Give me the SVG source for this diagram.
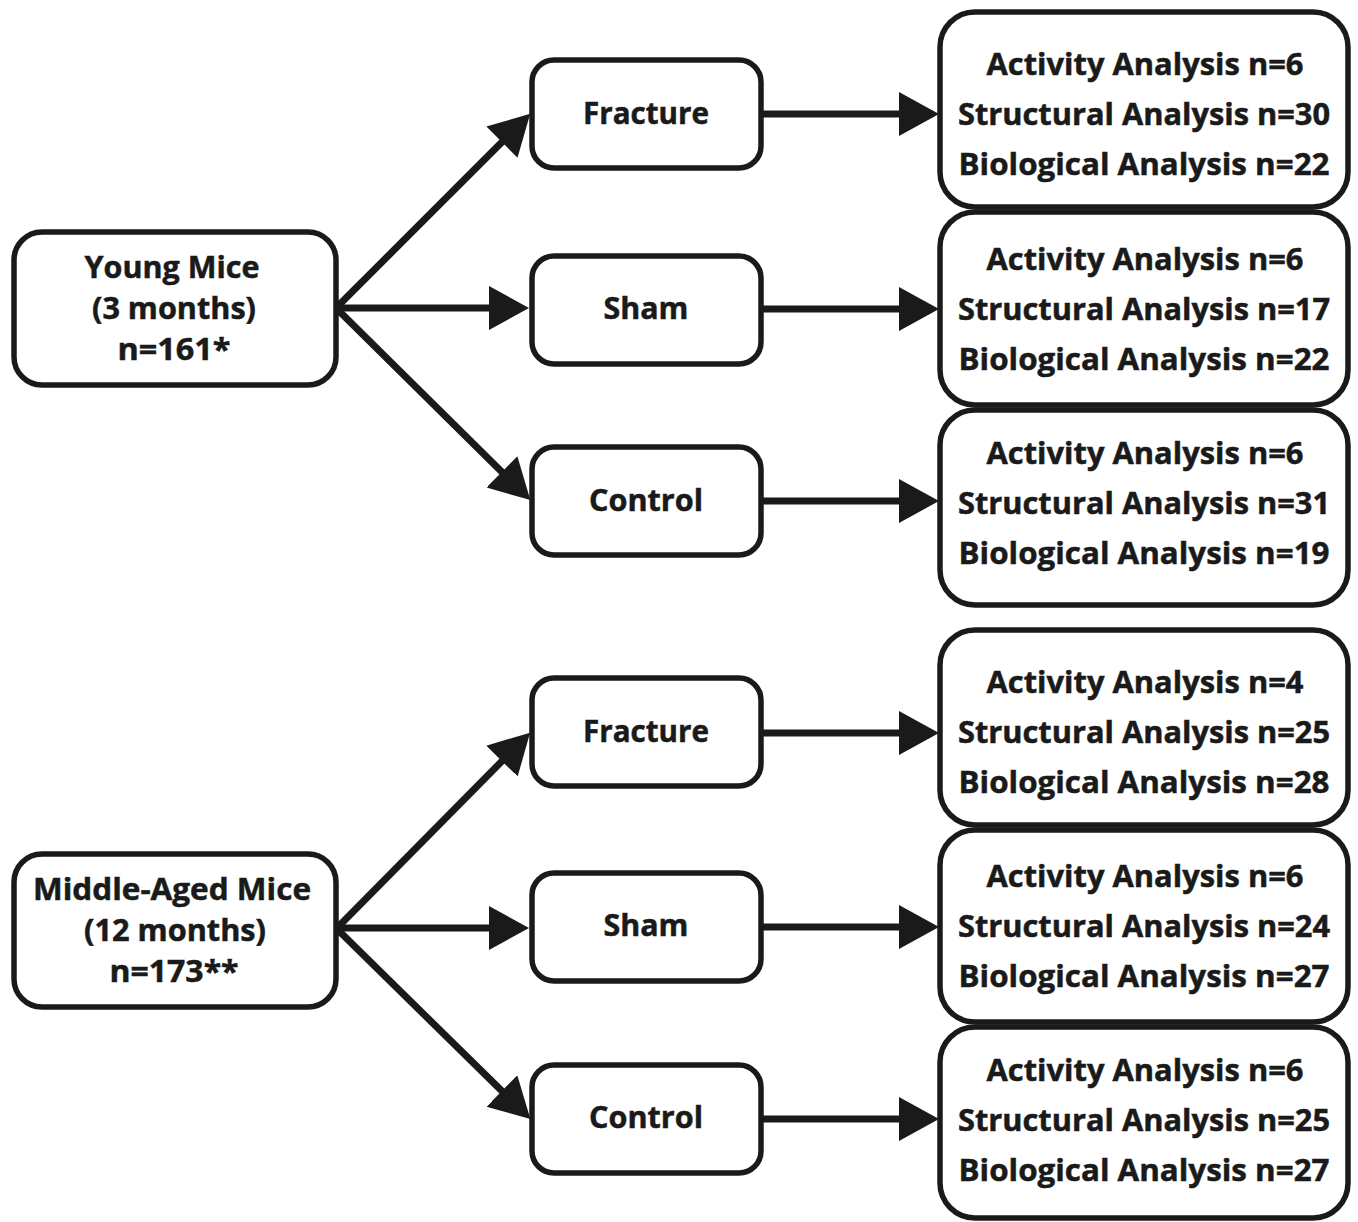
<svg xmlns="http://www.w3.org/2000/svg" width="1358" height="1222" viewBox="0 0 1358 1222">
<style>
  .box{fill:#fff;stroke:#1a1a1a;stroke-width:5.5}
  .t{font-family:"Open Sans","Noto Sans","Liberation Sans",sans-serif;font-weight:bold;font-size:30px;fill:#1a1a1a;stroke:#1a1a1a;stroke-width:0.5;text-anchor:middle}
  .c{stroke:#1a1a1a;stroke-width:7;fill:none}
</style>
<defs>
  <marker id="ah" markerUnits="userSpaceOnUse" markerWidth="42" markerHeight="46" refX="10" refY="22" orient="auto">
    <path d="M0,0 L40,22 L0,44 Z" fill="#1a1a1a"/>
  </marker>
</defs>
<rect width="1358" height="1222" fill="#fff"/>
<g id="connectors">
  <line class="c" x1="337" y1="307" x2="509" y2="135" marker-end="url(#ah)"/>
  <line class="c" x1="337" y1="308" x2="499" y2="308" marker-end="url(#ah)"/>
  <line class="c" x1="337" y1="309" x2="509" y2="479" marker-end="url(#ah)"/>
  <line class="c" x1="761" y1="114" x2="909" y2="114" marker-end="url(#ah)"/>
  <line class="c" x1="761" y1="309" x2="909" y2="309" marker-end="url(#ah)"/>
  <line class="c" x1="761" y1="501" x2="909" y2="501" marker-end="url(#ah)"/>
  <line class="c" x1="337" y1="928" x2="509" y2="754" marker-end="url(#ah)"/>
  <line class="c" x1="337" y1="928" x2="499" y2="928" marker-end="url(#ah)"/>
  <line class="c" x1="337" y1="929" x2="509" y2="1098" marker-end="url(#ah)"/>
  <line class="c" x1="761" y1="733" x2="909" y2="733" marker-end="url(#ah)"/>
  <line class="c" x1="761" y1="927" x2="909" y2="927" marker-end="url(#ah)"/>
  <line class="c" x1="761" y1="1119" x2="909" y2="1119" marker-end="url(#ah)"/>
</g>
<g id="young">
  <rect class="box" x="14" y="232" width="322" height="153" rx="28"/>
  <text class="t" x="172" y="278" textLength="175" lengthAdjust="spacingAndGlyphs">Young Mice</text>
  <text class="t" x="174" y="319" textLength="164" lengthAdjust="spacingAndGlyphs">(3 months)</text>
  <text class="t" x="174" y="360" textLength="113" lengthAdjust="spacingAndGlyphs">n=161*</text>
</g>
<g id="middle">
  <rect class="box" x="14" y="854" width="322" height="153" rx="28"/>
  <text class="t" x="172" y="900" textLength="278" lengthAdjust="spacingAndGlyphs">Middle-Aged Mice</text>
  <text class="t" x="175" y="941" textLength="182" lengthAdjust="spacingAndGlyphs">(12 months)</text>
  <text class="t" x="174" y="982" textLength="129" lengthAdjust="spacingAndGlyphs">n=173**</text>
</g>
<g id="y-fracture">
  <rect class="box" x="532" y="60" width="229" height="108" rx="22"/>
  <text class="t" x="646" y="124" textLength="126" lengthAdjust="spacingAndGlyphs">Fracture</text>
</g>
<g id="y-sham">
  <rect class="box" x="532" y="256" width="229" height="108" rx="22"/>
  <text class="t" x="646" y="319" textLength="85" lengthAdjust="spacingAndGlyphs">Sham</text>
</g>
<g id="y-control">
  <rect class="box" x="532" y="447" width="229" height="108" rx="22"/>
  <text class="t" x="646" y="511" textLength="114" lengthAdjust="spacingAndGlyphs">Control</text>
</g>
<g id="m-fracture">
  <rect class="box" x="532" y="678" width="229" height="108" rx="22"/>
  <text class="t" x="646" y="742" textLength="126" lengthAdjust="spacingAndGlyphs">Fracture</text>
</g>
<g id="m-sham">
  <rect class="box" x="532" y="873" width="229" height="108" rx="22"/>
  <text class="t" x="646" y="936" textLength="85" lengthAdjust="spacingAndGlyphs">Sham</text>
</g>
<g id="m-control">
  <rect class="box" x="532" y="1065" width="229" height="108" rx="22"/>
  <text class="t" x="646" y="1128" textLength="114" lengthAdjust="spacingAndGlyphs">Control</text>
</g>
<g id="y-fracture-analysis">
  <rect class="box" x="940" y="12" width="408" height="195" rx="35"/>
  <text class="t" x="1145" y="75" textLength="317" lengthAdjust="spacingAndGlyphs">Activity Analysis n=6</text>
  <text class="t" x="1144" y="125" textLength="372" lengthAdjust="spacingAndGlyphs">Structural Analysis n=30</text>
  <text class="t" x="1144" y="175" textLength="371" lengthAdjust="spacingAndGlyphs">Biological Analysis n=22</text>
</g>
<g id="y-sham-analysis">
  <rect class="box" x="940" y="212" width="408" height="193" rx="35"/>
  <text class="t" x="1145" y="270" textLength="317" lengthAdjust="spacingAndGlyphs">Activity Analysis n=6</text>
  <text class="t" x="1144" y="320" textLength="372" lengthAdjust="spacingAndGlyphs">Structural Analysis n=17</text>
  <text class="t" x="1144" y="370" textLength="371" lengthAdjust="spacingAndGlyphs">Biological Analysis n=22</text>
</g>
<g id="y-control-analysis">
  <rect class="box" x="940" y="410" width="408" height="195" rx="35"/>
  <text class="t" x="1145" y="464" textLength="317" lengthAdjust="spacingAndGlyphs">Activity Analysis n=6</text>
  <text class="t" x="1144" y="514" textLength="372" lengthAdjust="spacingAndGlyphs">Structural Analysis n=31</text>
  <text class="t" x="1144" y="564" textLength="371" lengthAdjust="spacingAndGlyphs">Biological Analysis n=19</text>
</g>
<g id="m-fracture-analysis">
  <rect class="box" x="940" y="630" width="408" height="195" rx="35"/>
  <text class="t" x="1145" y="693" textLength="317" lengthAdjust="spacingAndGlyphs">Activity Analysis n=4</text>
  <text class="t" x="1144" y="743" textLength="372" lengthAdjust="spacingAndGlyphs">Structural Analysis n=25</text>
  <text class="t" x="1144" y="793" textLength="371" lengthAdjust="spacingAndGlyphs">Biological Analysis n=28</text>
</g>
<g id="m-sham-analysis">
  <rect class="box" x="940" y="830" width="408" height="192" rx="35"/>
  <text class="t" x="1145" y="887" textLength="317" lengthAdjust="spacingAndGlyphs">Activity Analysis n=6</text>
  <text class="t" x="1144" y="937" textLength="372" lengthAdjust="spacingAndGlyphs">Structural Analysis n=24</text>
  <text class="t" x="1144" y="987" textLength="371" lengthAdjust="spacingAndGlyphs">Biological Analysis n=27</text>
</g>
<g id="m-control-analysis">
  <rect class="box" x="940" y="1027" width="408" height="191" rx="35"/>
  <text class="t" x="1145" y="1081" textLength="317" lengthAdjust="spacingAndGlyphs">Activity Analysis n=6</text>
  <text class="t" x="1144" y="1131" textLength="372" lengthAdjust="spacingAndGlyphs">Structural Analysis n=25</text>
  <text class="t" x="1144" y="1181" textLength="371" lengthAdjust="spacingAndGlyphs">Biological Analysis n=27</text>
</g>
</svg>
